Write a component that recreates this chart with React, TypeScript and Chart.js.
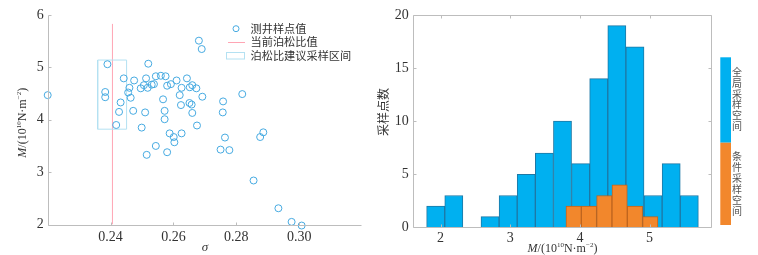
import React, { useEffect, useRef } from 'react';
import { Chart, registerables } from 'chart.js';
Chart.register(...registerables);

// ---------- data ----------
const SIGMA = [
  0.2200, 0.2681, 0.2690, 0.2390, 0.2520, 0.2442, 0.2475, 0.2513, 0.2544, 0.2560,
  0.2575, 0.2610, 0.2643, 0.2460, 0.2496, 0.2506, 0.2518, 0.2531, 0.2538, 0.2580,
  0.2592, 0.2626, 0.2660, 0.2652, 0.2673, 0.2383, 0.2383, 0.2456, 0.2464, 0.2620,
  0.2692, 0.2819, 0.2432, 0.2567, 0.2624, 0.2651, 0.2658, 0.2758, 0.2427, 0.2472,
  0.2510, 0.2572, 0.2660, 0.2757, 0.2572, 0.2418, 0.2499, 0.2675, 0.2588, 0.2601,
  0.2603, 0.2626, 0.2544, 0.2515, 0.2580, 0.2764, 0.2750, 0.2778, 0.2876, 0.2886,
  0.2855, 0.2934, 0.2976, 0.3008,
];
const MODULUS = [
  4.47, 5.51, 5.35, 5.06, 5.07, 4.79, 4.75, 4.79, 4.83, 4.84,
  4.83, 4.75, 4.79, 4.61, 4.60, 4.66, 4.61, 4.67, 4.68, 4.65,
  4.68, 4.61, 4.66, 4.62, 4.60, 4.53, 4.43, 4.52, 4.42, 4.47,
  4.44, 4.49, 4.33, 4.39, 4.28, 4.32, 4.29, 4.35, 4.15, 4.17,
  4.14, 4.17, 4.13, 4.14, 4.01, 3.90, 3.85, 3.89, 3.74, 3.67,
  3.57, 3.74, 3.50, 3.33, 3.38, 3.66, 3.43, 3.42, 3.67, 3.76,
  2.84, 2.31, 2.05, 1.98,
];
const CURRENT_POISSON = 0.2406;
const CURRENT_LINE_Y = [2, 5.83];
const SUGGEST_X = [0.2359, 0.2451];
const SUGGEST_Y = [3.82, 5.14];
const SIGMA_TICKS = [0.24, 0.26, 0.28, 0.30];
const SIGMA_TICK_LABELS = ['0.24', '0.26', '0.28', '0.30'];
const M_TICKS = [2, 3, 4, 5, 6];
const LEFT_LEGEND = ['测井样点值', '当前泊松比值', '泊松比建议采样区间'];

const GLOBAL_BIN_CENTERS = [1.93, 2.19, 2.45, 2.71, 2.97, 3.23, 3.49, 3.75, 4.01, 4.27, 4.53, 4.79, 5.05, 5.31, 5.57];
const GLOBAL_COUNTS = [2, 3, 0, 1, 3, 5, 7, 10, 6, 14, 19, 17, 3, 6, 3];
const COND_BIN_CENTERS = [3.91, 4.13, 4.35, 4.57, 4.79, 5.01];
const COND_COUNTS = [2, 2, 3, 4, 2, 1];
const HIST_X_TICKS = [2, 3, 4, 5];
const COUNT_TICKS = [0, 5, 10, 15, 20];
const BAR_LEGEND = ['全局采样空间', '条件采样空间'];
const COUNT_TITLE = '采样点数';

// ---------- styles ----------
const SERIF = '"Liberation Serif", "DejaVu Serif", serif';
const CJK = '"Noto Sans CJK SC", "Noto Sans", sans-serif';
const TXT = '#333333';
const AXIS = '#bdbdbd';
const SCATTER = 'rgb(70,170,225)';
const RED = 'rgb(255,165,180)';
const RECT = 'rgb(180,225,242)';
const BLUE = 'rgb(0,176,240)';
const BLUE_EDGE = 'rgb(30,120,165)';
const ORANGE = 'rgb(242,135,44)';
const ORANGE_EDGE = 'rgb(190,100,30)';

type Seg = { t: string; italic?: boolean; sup?: boolean };
const M_TITLE: Seg[] = [
  { t: 'M', italic: true },
  { t: '/(10' },
  { t: '10', sup: true },
  { t: 'N·m' },
  { t: '−2', sup: true },
  { t: ')' },
];

function drawRich(ctx: CanvasRenderingContext2D, segs: Seg[], cx: number, cy: number, rot: number, size: number) {
  ctx.save();
  ctx.translate(cx, cy);
  ctx.rotate(rot);
  ctx.fillStyle = TXT;
  ctx.textBaseline = 'alphabetic';
  ctx.textAlign = 'left';
  const fonts = segs.map((s) => `${s.italic ? 'italic ' : ''}${s.sup ? Math.round(size * 0.6) : size}px ${SERIF}`);
  const widths = segs.map((s, i) => {
    ctx.font = fonts[i];
    return ctx.measureText(s.t).width;
  });
  const total = widths.reduce((a, b) => a + b, 0);
  let x = -total / 2;
  const base = size * 0.33;
  segs.forEach((s, i) => {
    ctx.font = fonts[i];
    ctx.fillText(s.t, x, s.sup ? base - size * 0.42 : base);
    x += widths[i];
  });
  ctx.restore();
}

function framePlugin(box: boolean) {
  return {
    id: 'frame' + (box ? 'Box' : ''),
    afterDraw(chart: any) {
      const { ctx, chartArea: a, scales } = chart;
      const xs = scales.x;
      const ys = scales.y;
      const L = 3;
      ctx.save();
      ctx.strokeStyle = AXIS;
      ctx.lineWidth = 1;
      ctx.beginPath();
      const l = Math.round(a.left) + 0.5;
      const b = Math.round(a.bottom) + 0.5;
      const t = Math.round(a.top) + 0.5;
      const r = Math.round(a.right) - 0.5;
      ctx.moveTo(l, t);
      ctx.lineTo(l, b);
      ctx.lineTo(r, b);
      if (box) {
        ctx.moveTo(l, t);
        ctx.lineTo(r, t);
        ctx.lineTo(r, b);
      }
      xs.ticks.forEach((tk: any) => {
        const px = Math.round(xs.getPixelForValue(tk.value)) + 0.5;
        ctx.moveTo(px, b);
        ctx.lineTo(px, b - L);
        if (box) {
          ctx.moveTo(px, t);
          ctx.lineTo(px, t + L);
        }
      });
      ys.ticks.forEach((tk: any) => {
        const py = Math.round(ys.getPixelForValue(tk.value)) + 0.5;
        ctx.moveTo(l, py);
        ctx.lineTo(l + L, py);
        if (box) {
          ctx.moveTo(r, py);
          ctx.lineTo(r - L, py);
        }
      });
      ctx.stroke();
      ctx.restore();
    },
  };
}

const leftDecor = {
  id: 'leftDecor',
  afterDraw(chart: any) {
    const { ctx, chartArea: a } = chart;
    // y title
    drawRich(ctx, M_TITLE, 22, (a.top + a.bottom) / 2 + 3, -Math.PI / 2, 12);
    // legend
    ctx.save();
    ctx.lineWidth = 1;
    ctx.strokeStyle = SCATTER;
    ctx.beginPath();
    ctx.arc(236, 28.7, 3, 0, Math.PI * 2);
    ctx.stroke();
    ctx.strokeStyle = RED;
    ctx.beginPath();
    ctx.moveTo(228, 42.5);
    ctx.lineTo(245, 42.5);
    ctx.stroke();
    ctx.strokeStyle = RECT;
    ctx.strokeRect(226.5, 52.5, 18, 6.5);
    ctx.fillStyle = TXT;
    ctx.font = `11.2px ${CJK}`;
    ctx.textAlign = 'left';
    ctx.textBaseline = 'middle';
    LEFT_LEGEND.forEach((s, i) => ctx.fillText(s, 250.5, 28.5 + i * 13.5));
    ctx.restore();
  },
};

const rightDecor = {
  id: 'rightDecor',
  afterDraw(chart: any) {
    const { ctx, chartArea: a } = chart;
    drawRich(ctx, M_TITLE, (a.left + a.right) / 2, 248, 0, 12);
    ctx.save();
    // y title
    ctx.translate(6, 112);
    ctx.rotate(-Math.PI / 2);
    ctx.fillStyle = TXT;
    ctx.font = `12px ${CJK}`;
    ctx.textAlign = 'center';
    ctx.textBaseline = 'middle';
    ctx.fillText(COUNT_TITLE, 0, 0);
    ctx.restore();
    // colour legend
    ctx.save();
    const x0 = a.right + 8;
    ctx.fillStyle = BLUE;
    ctx.fillRect(x0, 57.3, 10.7, 85.4);
    ctx.fillStyle = ORANGE;
    ctx.fillRect(x0, 142.7, 10.7, 82.3);
    ctx.fillStyle = '#555';
    ctx.font = `10px ${CJK}`;
    ctx.textAlign = 'center';
    ctx.textBaseline = 'middle';
    const tx = x0 + 16.7;
    Array.from(BAR_LEGEND[0]).forEach((c, i) => ctx.fillText(c, tx, 72.5 + i * 10.7));
    Array.from(BAR_LEGEND[1]).forEach((c, i) => ctx.fillText(c, tx, 156 + i * 11));
    ctx.restore();
  },
};

const tickFont = { family: SERIF, size: 14 };

export default function App() {
  const leftRef = useRef<HTMLCanvasElement>(null);
  const rightRef = useRef<HTMLCanvasElement>(null);

  useEffect(() => {
    const left = new Chart(leftRef.current as HTMLCanvasElement, {
      type: 'scatter',
      data: {
        datasets: [
          {
            type: 'scatter',
            data: SIGMA.map((s, i) => ({ x: s, y: MODULUS[i] })),
            pointRadius: 3.5,
            pointHoverRadius: 3.5,
            pointBorderWidth: 1,
            borderColor: SCATTER,
            backgroundColor: 'rgba(0,0,0,0)',
            clip: false,
            order: 0,
          } as any,
          {
            type: 'line',
            data: CURRENT_LINE_Y.map((y) => ({ x: CURRENT_POISSON, y })),
            borderColor: RED,
            borderWidth: 1,
            pointRadius: 0,
            fill: false,
            order: 2,
          } as any,
          {
            type: 'line',
            data: [
              { x: SUGGEST_X[0], y: SUGGEST_Y[0] },
              { x: SUGGEST_X[1], y: SUGGEST_Y[0] },
              { x: SUGGEST_X[1], y: SUGGEST_Y[1] },
              { x: SUGGEST_X[0], y: SUGGEST_Y[1] },
              { x: SUGGEST_X[0], y: SUGGEST_Y[0] },
            ],
            borderColor: RECT,
            borderWidth: 1,
            pointRadius: 0,
            fill: false,
            tension: 0,
            order: 1,
          } as any,
        ],
      },
      options: {
        animation: false,
        responsive: false,
        devicePixelRatio: 1,
        events: [],
        layout: { padding: { top: 15, right: 15, bottom: 0, left: 0 } },
        plugins: { legend: { display: false }, tooltip: { enabled: false } },
        scales: {
          x: {
            type: 'linear',
            min: 0.22,
            max: 0.32,
            grid: { display: false, drawTicks: false },
            border: { display: false },
            afterBuildTicks: (s: any) => {
              s.ticks = SIGMA_TICKS.map((v) => ({ value: v }));
            },
            afterFit: (s: any) => {
              s.height = 30.5;
            },
            ticks: {
              padding: 4,
              color: TXT,
              font: tickFont,
              maxRotation: 0,
              autoSkip: false,
              callback: (_v: any, i: number) => SIGMA_TICK_LABELS[i],
            },
            title: {
              display: true,
              text: 'σ',
              color: TXT,
              font: { family: SERIF, size: 13, style: 'italic', lineHeight: 1.2 },
              padding: { top: 0, bottom: 0 },
            },
          },
          y: {
            type: 'linear',
            min: 2,
            max: 6,
            grid: { display: false, drawTicks: false },
            border: { display: false },
            afterBuildTicks: (s: any) => {
              s.ticks = M_TICKS.map((v) => ({ value: v }));
            },
            afterFit: (s: any) => {
              s.width = 47.7;
            },
            ticks: { padding: 4, color: TXT, font: tickFont },
          },
        },
      },
      plugins: [framePlugin(false), leftDecor],
    } as any);

    const right = new Chart(rightRef.current as HTMLCanvasElement, {
      type: 'bar',
      data: {
        datasets: [
          {
            label: BAR_LEGEND[1],
            data: COND_BIN_CENTERS.map((c, i) => ({ x: c, y: COND_COUNTS[i] })),
            xAxisID: 'x2',
            backgroundColor: ORANGE,
            borderColor: ORANGE_EDGE,
            borderWidth: 1,
            barPercentage: 1,
            categoryPercentage: 1,
            grouped: false,
            order: 0,
          },
          {
            label: BAR_LEGEND[0],
            data: GLOBAL_BIN_CENTERS.map((c, i) => ({ x: c, y: GLOBAL_COUNTS[i] })),
            xAxisID: 'x',
            backgroundColor: BLUE,
            borderColor: BLUE_EDGE,
            borderWidth: 1,
            barPercentage: 1,
            categoryPercentage: 1,
            grouped: false,
            order: 1,
          },
        ],
      },
      options: {
        animation: false,
        responsive: false,
        devicePixelRatio: 1,
        events: [],
        layout: { padding: { top: 15, right: 45.7, bottom: 0, left: 0 } },
        plugins: { legend: { display: false }, tooltip: { enabled: false } },
        scales: {
          x: {
            type: 'linear',
            min: 1.6,
            max: 5.9,
            offset: false,
            grid: { display: false, drawTicks: false },
            border: { display: false },
            afterBuildTicks: (s: any) => {
              s.ticks = HIST_X_TICKS.map((v) => ({ value: v }));
            },
            afterFit: (s: any) => {
              s.height = 27.7;
            },
            ticks: { padding: 3, color: TXT, font: tickFont, maxRotation: 0, autoSkip: false },
          },
          x2: {
            type: 'linear',
            min: 1.6,
            max: 5.9,
            offset: false,
            display: false,
          },
          y: {
            type: 'linear',
            min: 0,
            max: 20,
            grid: { display: false, drawTicks: false },
            border: { display: false },
            afterBuildTicks: (s: any) => {
              s.ticks = COUNT_TICKS.map((v) => ({ value: v }));
            },
            afterFit: (s: any) => {
              s.width = 35.7;
            },
            ticks: { padding: 4, color: TXT, font: tickFont },
          },
        },
      },
      plugins: [framePlugin(true), rightDecor],
    } as any);

    return () => {
      left.destroy();
      right.destroy();
    };
  }, []);

  return (
    <div style={{ position: 'fixed', left: 0, top: 0, width: 758, height: 255, background: '#fff' }}>
      <canvas
        ref={leftRef}
        width={377}
        height={255}
        style={{ position: 'absolute', left: 0, top: 0, width: 377, height: 255 }}
      />
      <canvas
        ref={rightRef}
        width={381}
        height={255}
        style={{ position: 'absolute', left: 377, top: 0, width: 381, height: 255 }}
      />
    </div>
  );
}
